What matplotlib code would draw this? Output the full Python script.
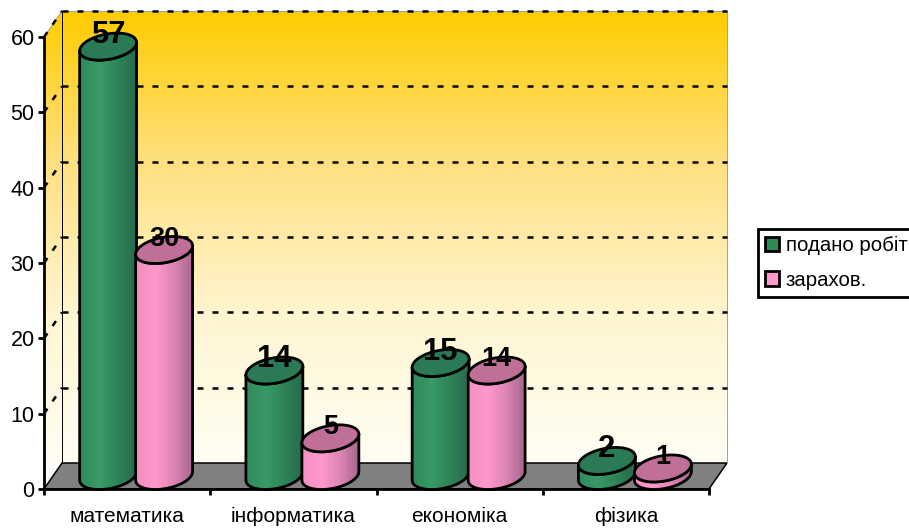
import numpy as np
import matplotlib
matplotlib.use("Agg")
import matplotlib.pyplot as plt
from matplotlib.colors import LinearSegmentedColormap
from matplotlib.patches import Patch, Polygon

categories = ["математика", "інформатика", "економіка", "фізика"]
submitted = [57, 14, 15, 2]
accepted = [30, 5, 14, 1]
series_names = ["подано робіт", "зарахов."]

plt.rcParams["font.family"] = ["Liberation Sans", "DejaVu Sans"]

W, H = 909, 528
fig = plt.figure(figsize=(W / 100, H / 100), dpi=100)
# Axes rectangle is the front plane of the fake 3D box.
ax = fig.add_axes([44 / W, 1 - 489 / H, 665 / W, 452 / H])
ax.set_xlim(0, 4)
ax.set_ylim(0, 60)

# pixel sizes converted to data units
px_x = 4 / 665
px_y = 60 / 452
depth_x = 18 * px_x
depth_y = 26 * px_y
LW = 2.0
GRID_LW = 1.8


def gradient(cmap, extent, clip, horizontal=False, zorder=1, n=256):
    g = np.linspace(0, 1, n)
    g = g.reshape(1, -1) if horizontal else g.reshape(-1, 1)
    im = ax.imshow(g, cmap=cmap, extent=extent, aspect="auto", origin="upper",
                   zorder=zorder, interpolation="nearest" if horizontal else "bilinear")
    # images get cropped to the axes unless the clip box is the whole figure
    im.set_clip_box(fig.bbox)
    im.set_clip_path(clip)


# Walls
wall_cmap = LinearSegmentedColormap.from_list(
    "wall", ["#FFCC00", "#FFE080", "#FFF5D0", "#FFFEF4"])
top = 60 + depth_y
back = Polygon([(depth_x, depth_y), (4 + depth_x, depth_y), (4 + depth_x, top), (depth_x, top)],
               closed=True, fc="none", ec="none")
side = Polygon([(0, 0), (depth_x, depth_y), (depth_x, top), (0, 60)],
               closed=True, fc="none", ec="none")
ax.add_patch(back)
ax.add_patch(side)
gradient(wall_cmap, [depth_x, 4 + depth_x, depth_y, top], back)
gradient(wall_cmap, [0, depth_x, depth_y, top], side)

# Floor
ax.add_patch(Polygon([(0, 0), (depth_x, depth_y), (4 + depth_x, depth_y), (4, 0)],
                     closed=True, fc="#808080", ec="black", lw=1.1, zorder=2, clip_on=False))

# Grid lines on the walls
dash = (0, (2.4, 3.6))
for v in range(10, 61, 10):
    ax.plot([depth_x, 4 + depth_x], [v + depth_y, v + depth_y], color="black", lw=GRID_LW,
            linestyle=dash, dash_capstyle="butt", zorder=3, clip_on=False)
    ax.plot([0, depth_x], [v, v + depth_y], color="black", lw=GRID_LW,
            linestyle=dash, dash_capstyle="butt", zorder=3, clip_on=False)
ax.plot([depth_x, depth_x], [depth_y, top], color="black", lw=0.7, zorder=3, clip_on=False)
ax.plot([4 + depth_x] * 2, [depth_y, top], color="#a0a0a0", lw=0.7, zorder=2.5, clip_on=False)
ax.plot([depth_x, 4 + depth_x], [top, top], color="#a0a0a0", lw=0.7, zorder=2.5, clip_on=False)
ax.plot([0, depth_x], [60, top], color="#a0a0a0", lw=0.7, zorder=2.5, clip_on=False)

# Cylinders
green_body = LinearSegmentedColormap.from_list("g", ["#2F8A5A", "#3A9A68", "#2E8558", "#286B4E"])
pink_body = LinearSegmentedColormap.from_list("p", ["#F58FC0", "#FF99CC", "#DE86B5", "#A8688F"])
green_top = "#2A7A55"
pink_top = "#C07098"

ux = 27 * px_x
vx = 9 * px_x
vy = 13.5 * px_y
tilt = np.arctan2(vx, ux)


def ellipse_pts(cx, cy, t):
    return np.column_stack([cx + ux * np.cos(t) + vx * np.sin(t), cy + vy * np.sin(t)])


def cylinder(x, value, body_cmap, top_color, font_px, z):
    t_low = np.linspace(np.pi + tilt, 2 * np.pi + tilt, 60)
    bottom = ellipse_pts(x, depth_y / 2, t_low)
    upper = ellipse_pts(x, value + depth_y / 2, t_low[::-1])
    body = Polygon(np.vstack([bottom, upper]), closed=True, fc="none", ec="none", zorder=z)
    ax.add_patch(body)
    half = np.hypot(ux, vx)
    gradient(body_cmap, [x - half, x + half, 0, value + depth_y], body, horizontal=True,
             zorder=z, n=24)
    ax.add_patch(Polygon(np.vstack([bottom, upper]), closed=True, fc="none", ec="black",
                         lw=LW, zorder=z + 0.1, clip_on=False, joinstyle="round"))
    t = np.linspace(0, 2 * np.pi, 120)
    ax.add_patch(Polygon(ellipse_pts(x, value + depth_y / 2, t), closed=True, fc=top_color,
                         ec="black", lw=LW, zorder=z + 0.2, clip_on=False))
    ax.text(x, value + depth_y / 2 + 11.5 * px_y, str(value), ha="center", va="center",
            fontsize=font_px * 0.72, fontweight="bold", color="black", zorder=20, clip_on=False)


bar_off = 28 * px_x
for i in range(len(categories)):
    cx = i + 0.5 + vx
    cylinder(cx - bar_off, submitted[i], green_body, green_top, 31, 5 + i * 2)
    cylinder(cx + bar_off, accepted[i], pink_body, pink_top, 27, 5.5 + i * 2)

ax.set_xlim(0, 4)
ax.set_ylim(0, 60)

# Axes and ticks
for s in ["top", "right"]:
    ax.spines[s].set_visible(False)
for s in ["left", "bottom"]:
    ax.spines[s].set_linewidth(LW)
    ax.spines[s].set_zorder(4)
ax.set_yticks(range(0, 61, 10))
ax.set_xticks(range(5))
ax.set_xticklabels([])
ax.set_xticks(np.arange(4) + 0.5, minor=True)
ax.set_xticklabels(categories, minor=True, fontsize=15)
ax.tick_params(axis="x", which="major", length=4.3, width=LW, direction="out")
ax.tick_params(axis="x", which="minor", length=0, pad=13.2)
ax.tick_params(axis="y", length=4.3, width=LW, direction="out", labelsize=15.5, pad=2.5)
ax.patch.set_visible(False)

handles = [Patch(fc="#2F8A5A", ec="black", lw=LW), Patch(fc="#FF99CC", ec="black", lw=LW)]
fig.legend(handles, series_names, loc="center left", bbox_to_anchor=(758 / W, 1 - 263 / H),
           fontsize=14.7, frameon=True, fancybox=False, edgecolor="black", framealpha=1,
           handlelength=0.7, handleheight=0.7, handletextpad=0.3, labelspacing=0.75,
           borderpad=0.35, borderaxespad=0).get_frame().set_linewidth(LW)

fig.savefig("out.png", dpi=100)
